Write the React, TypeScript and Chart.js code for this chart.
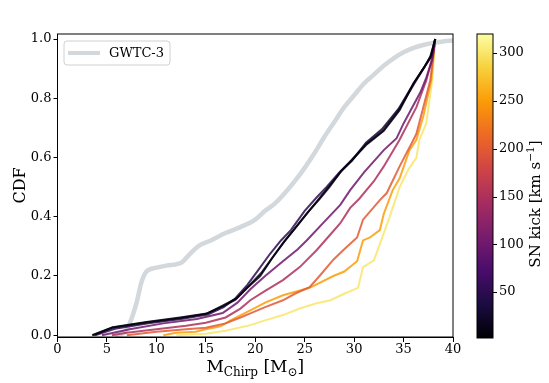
import React, { useEffect, useRef } from "react";
import { Chart, registerables } from "chart.js";

Chart.register(...registerables);

// ---------- ticks / ranges ----------
const X_TICKS = [0, 5, 10, 15, 20, 25, 30, 35, 40];
const Y_TICKS = [0, 0.2, 0.4, 0.6, 0.8, 1.0];
const CBAR_TICKS = [50, 100, 150, 200, 250, 300];
const KICK_MIN = 2;
const KICK_MAX = 320;

// ---------- GWTC-3 observed CDF ----------
const gwtcX = [5.8, 6.8, 7.3, 8.0, 8.5, 9.0, 10.0, 11.0, 12.6, 13.4, 14.4, 15.5, 17.0, 18.5, 20.0, 21.0, 22.0, 23.0, 24.0, 25.0, 26.0, 27.0, 28.0, 29.0, 30.0, 31.0, 32.0, 33.0, 34.0, 35.0, 36.0, 37.0, 38.0, 39.0, 40.0];
const gwtcY = [0, 0.01, 0.04, 0.11, 0.18, 0.215, 0.228, 0.235, 0.247, 0.275, 0.304, 0.32, 0.345, 0.365, 0.39, 0.42, 0.445, 0.48, 0.52, 0.565, 0.615, 0.67, 0.72, 0.77, 0.81, 0.85, 0.88, 0.91, 0.935, 0.955, 0.97, 0.98, 0.987, 0.992, 0.995];

// ---------- simulated CDFs, one per SN kick ----------
const kick5X = [3.5, 5.6, 9.0, 12.4, 15.1, 16.7, 18.1, 19.2, 20.5, 21.7, 22.8, 23.5, 25.2, 26.2, 26.9, 28.6, 29.6, 31.3, 33.0, 34.6, 36.0, 37.0, 37.7, 38.2];
const kick5Y = [0, 0.027, 0.045, 0.06, 0.073, 0.1, 0.124, 0.16, 0.2, 0.26, 0.31, 0.34, 0.41, 0.45, 0.48, 0.55, 0.585, 0.645, 0.69, 0.76, 0.85, 0.9, 0.94, 1.0];

const kick25X = [3.6, 5.5, 9.0, 12.5, 15.0, 16.8, 18.0, 19.3, 20.6, 21.8, 22.9, 24.0, 25.3, 26.5, 27.5, 28.7, 29.8, 31.2, 32.8, 34.5, 36.1, 37.1, 37.8, 38.2];
const kick25Y = [0, 0.025, 0.043, 0.058, 0.072, 0.098, 0.12, 0.165, 0.21, 0.265, 0.315, 0.36, 0.415, 0.46, 0.5, 0.555, 0.59, 0.65, 0.695, 0.765, 0.855, 0.905, 0.945, 1.0];

const kick50X = [3.8, 5.8, 9.2, 12.5, 15.2, 16.8, 18.0, 19.2, 20.3, 21.5, 22.6, 23.6, 25.0, 26.2, 27.2, 28.5, 29.7, 31.2, 32.9, 34.5, 36.0, 37.0, 37.8, 38.2];
const kick50Y = [0, 0.022, 0.04, 0.055, 0.07, 0.095, 0.125, 0.17, 0.22, 0.275, 0.32, 0.355, 0.42, 0.465, 0.5, 0.55, 0.59, 0.645, 0.69, 0.76, 0.845, 0.9, 0.94, 1.0];

const kick100X = [4.5, 7.3, 10.7, 14.1, 16.7, 18.2, 19.5, 21.0, 22.8, 24.3, 25.2, 26.9, 28.6, 29.6, 31.0, 33.0, 34.3, 35.0, 36.7, 37.3, 37.9, 38.2];
const kick100Y = [0, 0.02, 0.04, 0.055, 0.075, 0.11, 0.155, 0.2, 0.25, 0.29, 0.32, 0.38, 0.44, 0.49, 0.55, 0.625, 0.665, 0.715, 0.82, 0.87, 0.93, 1.0];

const kick150X = [5.5, 7.0, 10.0, 13.0, 15.0, 17.0, 18.5, 19.5, 21.0, 22.8, 24.5, 26.2, 27.6, 28.6, 29.6, 30.5, 32.0, 33.0, 34.6, 36.3, 37.3, 38.0, 38.2];
const kick150Y = [0, 0.008, 0.02, 0.032, 0.042, 0.06, 0.09, 0.118, 0.15, 0.186, 0.23, 0.287, 0.34, 0.378, 0.43, 0.46, 0.52, 0.57, 0.66, 0.77, 0.86, 0.95, 1.0];

const kick200X = [7.0, 10.0, 13.0, 15.0, 17.0, 18.5, 19.5, 21.0, 22.8, 24.0, 25.5, 26.5, 27.9, 29.0, 30.3, 30.9, 32.6, 33.3, 34.6, 36.0, 36.3, 37.7, 38.2];
const kick200Y = [0, 0.012, 0.02, 0.025, 0.04, 0.06, 0.074, 0.095, 0.118, 0.14, 0.162, 0.2, 0.255, 0.29, 0.33, 0.39, 0.456, 0.48, 0.57, 0.66, 0.68, 0.86, 1.0];

const kick250X = [10.7, 12.0, 14.0, 15.0, 16.5, 17.5, 19.5, 21.0, 22.8, 25.5, 27.9, 29.0, 30.3, 30.9, 31.6, 32.6, 33.0, 33.9, 34.6, 35.6, 36.3, 37.0, 37.8, 38.2];
const kick250Y = [0, 0.008, 0.012, 0.02, 0.03, 0.05, 0.084, 0.11, 0.135, 0.16, 0.2, 0.215, 0.25, 0.32, 0.33, 0.355, 0.41, 0.49, 0.53, 0.625, 0.66, 0.74, 0.86, 1.0];

const kick300X = [12.0, 15.0, 17.0, 19.5, 21.0, 22.8, 24.5, 26.2, 27.6, 29.0, 30.4, 30.9, 32.0, 33.0, 33.6, 34.6, 35.5, 36.3, 36.6, 37.3, 37.9, 38.2];
const kick300Y = [0, 0.005, 0.015, 0.034, 0.05, 0.068, 0.09, 0.108, 0.118, 0.14, 0.16, 0.23, 0.253, 0.345, 0.4, 0.5, 0.56, 0.6, 0.66, 0.716, 0.86, 1.0];

const KICKS = [5, 25, 50, 100, 150, 200, 250, 300];
const KICK_XS = [kick5X, kick25X, kick50X, kick100X, kick150X, kick200X, kick250X, kick300X];
const KICK_YS = [kick5Y, kick25Y, kick50Y, kick100Y, kick150Y, kick200Y, kick250Y, kick300Y];

// ---------- colormap ----------
const INFERNO = ["#000004", "#1b0c41", "#4a0c6b", "#781c6d", "#a52c60", "#cf4446", "#ed6925", "#fb9b06", "#f7d13d", "#fcffa4"];

function hexToRgb(h: string) {
  const n = parseInt(h.slice(1), 16);
  return [(n >> 16) & 255, (n >> 8) & 255, n & 255];
}
function inferno(t: number, alpha = 1) {
  const tt = Math.max(0, Math.min(1, t)) * (INFERNO.length - 1);
  const i = Math.min(INFERNO.length - 2, Math.floor(tt));
  const f = tt - i;
  const a = hexToRgb(INFERNO[i]);
  const b = hexToRgb(INFERNO[i + 1]);
  const c = a.map((v, k) => Math.round(v + (b[k] - v) * f));
  return `rgba(${c[0]},${c[1]},${c[2]},${alpha})`;
}

const SERIF = "'DejaVu Serif', serif";

function drawDecor(chart: any) {
  const ctx: CanvasRenderingContext2D = chart.ctx;
  const { left, right, top, bottom } = chart.chartArea;
  ctx.save();

  // frame
  ctx.strokeStyle = "#000";
  ctx.lineWidth = 1;
  ctx.strokeRect(left, top, right - left, bottom - top);

  // legend
  const lx = left + 6.5, ly = top + 7, lw = 106, lh = 24, r = 3;
  ctx.beginPath();
  ctx.moveTo(lx + r, ly);
  ctx.lineTo(lx + lw - r, ly);
  ctx.quadraticCurveTo(lx + lw, ly, lx + lw, ly + r);
  ctx.lineTo(lx + lw, ly + lh - r);
  ctx.quadraticCurveTo(lx + lw, ly + lh, lx + lw - r, ly + lh);
  ctx.lineTo(lx + r, ly + lh);
  ctx.quadraticCurveTo(lx, ly + lh, lx, ly + lh - r);
  ctx.lineTo(lx, ly + r);
  ctx.quadraticCurveTo(lx, ly, lx + r, ly);
  ctx.closePath();
  ctx.fillStyle = "rgba(255,255,255,0.85)";
  ctx.fill();
  ctx.strokeStyle = "#d0d0d0";
  ctx.stroke();
  ctx.strokeStyle = "#d3d8dc";
  ctx.lineWidth = 4;
  ctx.beginPath();
  ctx.moveTo(lx + 4, ly + lh / 2);
  ctx.lineTo(lx + 36, ly + lh / 2);
  ctx.stroke();
  ctx.fillStyle = "#000";
  ctx.font = `13px ${SERIF}`;
  ctx.textAlign = "left";
  ctx.textBaseline = "middle";
  ctx.fillText("GWTC-3", lx + 45, ly + lh / 2 + 1);

  // colorbar
  const cbL = 477, cbR = 493, cbT = top, cbB = bottom + 1;
  const grad = ctx.createLinearGradient(0, cbB, 0, cbT);
  INFERNO.forEach((c, i) => grad.addColorStop(i / (INFERNO.length - 1), c));
  ctx.fillStyle = grad;
  ctx.fillRect(cbL, cbT, cbR - cbL, cbB - cbT);
  ctx.lineWidth = 1;
  ctx.strokeStyle = "#000";
  ctx.strokeRect(cbL, cbT, cbR - cbL, cbB - cbT);
  ctx.fillStyle = "#000";
  ctx.font = `13px ${SERIF}`;
  ctx.textBaseline = "middle";
  CBAR_TICKS.forEach((v) => {
    const y = cbB - ((v - KICK_MIN) / (KICK_MAX - KICK_MIN)) * (cbB - cbT);
    ctx.beginPath();
    ctx.moveTo(cbR, Math.round(y) + 0.5);
    ctx.lineTo(cbR + 4, Math.round(y) + 0.5);
    ctx.stroke();
    ctx.fillText(String(v), cbR + 6, y);
  });

  // colorbar label with superscript
  ctx.save();
  ctx.translate(540, 204);
  ctx.rotate(-Math.PI / 2);
  ctx.textBaseline = "alphabetic";
  ctx.textAlign = "left";
  const big = `15px ${SERIF}`, small = `10.5px ${SERIF}`;
  ctx.font = big;
  const p1 = "SN kick [km s", p3 = "]";
  const w1 = ctx.measureText(p1).width;
  const w3 = ctx.measureText(p3).width;
  ctx.font = small;
  const p2 = "\u22121";
  const w2 = ctx.measureText(p2).width;
  const x0 = -(w1 + w2 + w3) / 2;
  ctx.font = big;
  ctx.fillText(p1, x0, 0);
  ctx.font = small;
  ctx.fillText(p2, x0 + w1, -6.5);
  ctx.font = big;
  ctx.fillText(p3, x0 + w1 + w2, 0);
  ctx.restore();

  // y title
  ctx.save();
  ctx.translate(25, (top + bottom) / 2);
  ctx.rotate(-Math.PI / 2);
  ctx.font = `16px ${SERIF}`;
  ctx.textAlign = "center";
  ctx.textBaseline = "alphabetic";
  ctx.fillText("CDF", 0, 0);
  ctx.restore();

  // x title with subscripts
  const parts: [string, number, number][] = [
    ["M", 17, 0],
    ["Chirp", 12, 4],
    [" [M", 17, 0],
    ["\u2299", 12, 4],
    ["]", 17, 0],
  ];
  let total = 0;
  const widths = parts.map(([t, s]) => {
    ctx.font = `${s}px ${SERIF}`;
    const w = ctx.measureText(t).width;
    total += w;
    return w;
  });
  let xx = (left + right) / 2 - total / 2;
  ctx.textAlign = "left";
  ctx.textBaseline = "alphabetic";
  parts.forEach(([t, s, dy], i) => {
    ctx.font = `${s}px ${SERIF}`;
    ctx.fillText(t, xx, 372 + dy);
    xx += widths[i];
  });

  ctx.restore();
}

export default function App() {
  const ref = useRef<HTMLCanvasElement | null>(null);

  useEffect(() => {
    if (!ref.current) return;
    const datasets: any[] = KICKS.map((k, i) => ({
      label: `kick ${k}`,
      data: KICK_XS[i].map((x, j) => ({ x, y: KICK_YS[i][j] })),
      borderColor: inferno((k - KICK_MIN) / (KICK_MAX - KICK_MIN), 0.85),
      borderWidth: 2,
      pointRadius: 0,
      tension: 0,
      fill: false,
      order: i,
    }));
    datasets.push({
      label: "GWTC-3",
      data: gwtcX.map((x, j) => ({ x, y: gwtcY[j] })),
      borderColor: "#d3d8dc",
      borderWidth: 4.5,
      pointRadius: 0,
      cubicInterpolationMode: "monotone",
      fill: false,
      order: 100,
    });

    const tickFont = { family: SERIF, size: 13 };
    const chart = new Chart(ref.current, {
      type: "line",
      data: { datasets },
      options: {
        responsive: false,
        animation: false,
        events: [],
        layout: { padding: { left: 0, right: 96, top: 34, bottom: 0 } },
        plugins: { legend: { display: false }, tooltip: { enabled: false } },
        scales: {
          x: {
            type: "linear",
            min: 0,
            max: 40,
            afterBuildTicks: (s: any) => { s.ticks = X_TICKS.map((v) => ({ value: v })); },
            afterFit: (s: any) => { s.height = 46; },
            grid: { display: true, drawOnChartArea: false, drawTicks: true, tickLength: 5, color: "#000" },
            border: { display: true, color: "#000", width: 1 },
            ticks: { font: tickFont, color: "#000", padding: 0, maxRotation: 0, callback: (v: any) => String(v) },
          },
          y: {
            type: "linear",
            min: -0.006,
            max: 1.017,
            afterBuildTicks: (s: any) => { s.ticks = Y_TICKS.map((v) => ({ value: v })); },
            afterFit: (s: any) => { s.width = 57.5; },
            grid: { display: true, drawOnChartArea: false, drawTicks: true, tickLength: 4, color: "#000" },
            border: { display: true, color: "#000", width: 1 },
            ticks: { font: tickFont, color: "#000", padding: 2, callback: (v: any) => Number(v).toFixed(1) },
          },
        },
      },
      plugins: [{ id: "decor", afterDraw: drawDecor }],
    });
    return () => chart.destroy();
  }, []);

  return (
    <div style={{ position: "absolute", left: 0, top: 0, width: 549, height: 383, background: "#fff" }}>
      <canvas ref={ref} width={549} height={383} style={{ display: "block", width: 549, height: 383 }} />
    </div>
  );
}
